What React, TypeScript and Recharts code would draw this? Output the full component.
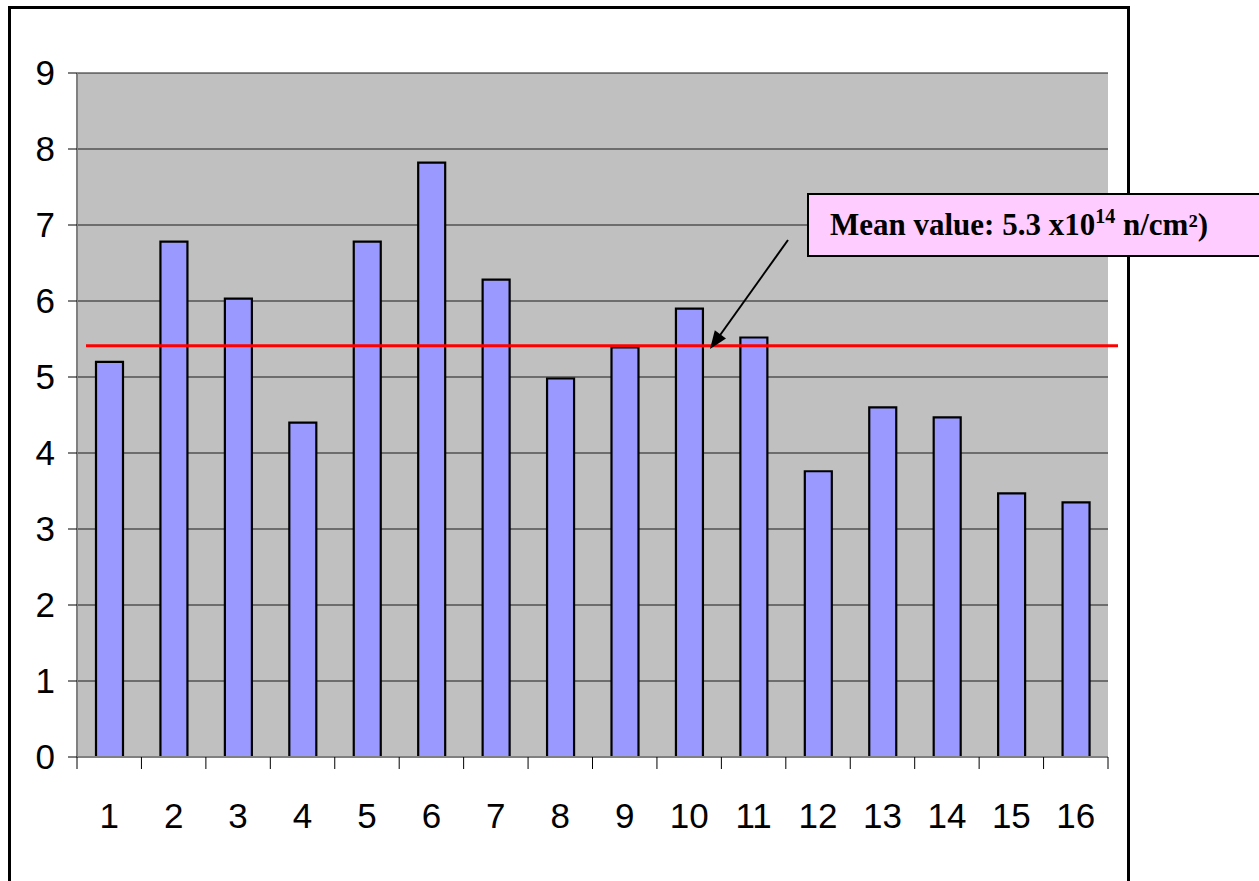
import React from 'react'
import { BarChart, Bar, XAxis, YAxis, CartesianGrid, ReferenceLine } from 'recharts'

const categories = ['1', '2', '3', '4', '5', '6', '7', '8', '9', '10', '11', '12', '13', '14', '15', '16']
const fluence = [5.2, 6.78, 6.03, 4.4, 6.78, 7.82, 6.28, 4.98, 5.39, 5.9, 5.52, 3.76, 4.6, 4.47, 3.47, 3.35]
const yTicks = [0, 1, 2, 3, 4, 5, 6, 7, 8, 9]
const meanLine = 5.41

const data = categories.map((name, i) => ({ name, value: fluence[i] }))

const TICK_SIZE = 12
const TICK_MARGIN = 34

function XTick(props: any) {
  const { x, y, payload, index, visibleTicksCount } = props
  const half = payload?.offset ?? 32.2
  const axisY = y - TICK_SIZE - TICK_MARGIN
  const last = index === visibleTicksCount - 1
  return (
    <g>
      <line x1={x - half} x2={x - half} y1={axisY} y2={axisY + TICK_SIZE} stroke="#000" strokeWidth={1} />
      {last && (
        <line x1={x + half} x2={x + half} y1={axisY} y2={axisY + TICK_SIZE} stroke="#000" strokeWidth={1} />
      )}
      <text x={x} y={y} dy="0.71em" textAnchor="middle" fontSize={35} fontFamily="'Liberation Sans', Arial, sans-serif" fill="#000">
        {payload.value}
      </text>
    </g>
  )
}

const MeanShape = (p: any) => (
  <line x1={p.x1 + 9} x2={p.x2 + 10} y1={p.y1} y2={p.y2} stroke="#FF0000" strokeWidth={3} />
)

export default function App() {
  return (
    <div style={{ position: 'absolute', left: 0, top: 0, width: 1259, height: 881, background: '#fff', overflow: 'hidden' }}>
      <div style={{ position: 'absolute', left: 8, top: 6, width: 1116, height: 1000, border: '3px solid #000' }} />
      <div style={{ position: 'absolute', left: 0, top: 0 }}>
        <BarChart width={1259} height={881} data={data} margin={{ top: 73, right: 151, bottom: 64, left: 0 }} barSize={27}>
          <CartesianGrid vertical={false} fill="#C0C0C0" stroke="#1a1a1a" />
          <XAxis
            dataKey="name"
            height={60}
            tickSize={TICK_SIZE}
            tickMargin={TICK_MARGIN}
            tickLine={false}
            axisLine={{ stroke: '#808080', strokeWidth: 2 }}
            tick={<XTick />}
            interval={0}
          />
          <XAxis xAxisId="top" dataKey="name" orientation="top" height={0} tick={false} tickLine={false} axisLine={{ stroke: '#808080', strokeWidth: 2 }} />
          <YAxis
            domain={[0, 9]}
            ticks={yTicks}
            width={77}
            tickSize={9}
            tickMargin={13}
            tickLine={{ stroke: '#000' }}
            axisLine={{ stroke: '#808080', strokeWidth: 2 }}
            tick={{ fontSize: 35, fill: '#000', fontFamily: "'Liberation Sans', Arial, sans-serif" }}
          />
          <YAxis yAxisId="right" orientation="right" domain={[0, 9]} width={0} tick={false} tickLine={false} axisLine={{ stroke: '#808080', strokeWidth: 2 }} />
          <Bar dataKey="value" fill="#9999FF" stroke="#000" strokeWidth={2.2} isAnimationActive={false} />
          <ReferenceLine y={meanLine} shape={MeanShape} />
        </BarChart>
      </div>
      <svg width={1259} height={881} style={{ position: 'absolute', left: 0, top: 0, pointerEvents: 'none' }}>
        <line x1={788} y1={240} x2={718} y2={338} stroke="#000" strokeWidth={2} />
        <polygon points="710,349 726,338.5 714.8,330.3" fill="#000" />
      </svg>
      <div
        style={{
          position: 'absolute', left: 807, top: 193, width: 470, height: 64,
          background: '#FFCCFF', border: '2px solid #000', boxSizing: 'border-box',
          fontFamily: "'Liberation Serif', 'Times New Roman', serif", fontWeight: 'bold',
          fontSize: 31, lineHeight: '60px', paddingLeft: 21, whiteSpace: 'nowrap', color: '#000',
        }}
      >
        Mean value: 5.3 x10<sup style={{ fontSize: 20, verticalAlign: 'top', lineHeight: '42px' }}>14</sup> n/cm²)
      </div>
    </div>
  )
}
